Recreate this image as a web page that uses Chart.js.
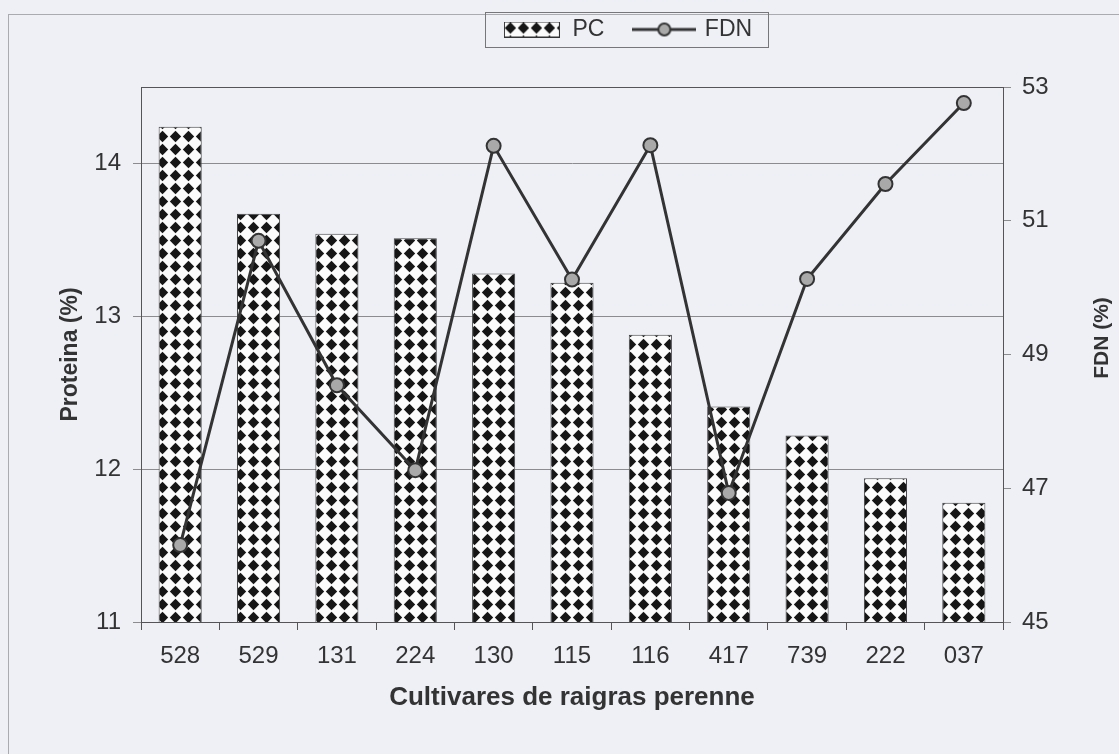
<!DOCTYPE html>
<html>
<head>
<meta charset="utf-8">
<script src="https://cdn.jsdelivr.net/npm/chart.js@4.4.1/dist/chart.umd.min.js"></script>
<style>
  html, body { margin: 0; padding: 0; background: #eef0f5; }
  #wrap { width: 1119px; height: 754px; position: relative; }
</style>
</head>
<body>
<div id="wrap"><canvas id="chart"></canvas></div>
<script>
// cultivares y valores
const cultivares = ['528', '529', '131', '224', '130', '115', '116', '417', '739', '222', '037'];
const proteina = [14.24, 13.67, 13.54, 13.51, 13.28, 13.22, 12.88, 12.41, 12.22, 11.94, 11.78];
const fdn = [46.15, 50.70, 48.54, 47.27, 52.12, 50.12, 52.13, 46.93, 50.13, 51.55, 52.76];

const protMin = 11, protMax = 14.5, protStep = 1;
const fdnMin = 45, fdnMax = 53, fdnStep = 2;

const TXT = '#333333';
Chart.defaults.font.family = "'Liberation Sans', Arial, sans-serif";
Chart.defaults.color = TXT;

// patron de rombos para las barras
function diamondTile() {
    const c = document.createElement('canvas');
    c.width = 13; c.height = 13;
    const g = c.getContext('2d');
    g.fillStyle = '#fbfbfb';
    g.fillRect(0, 0, 13, 13);
    g.fillStyle = '#161616';
    g.beginPath();
    g.moveTo(6.5, 0.8); g.lineTo(12.2, 6.5); g.lineTo(6.5, 12.2); g.lineTo(0.8, 6.5);
    g.closePath();
    g.fill();
    return c;
}
const tile = diamondTile();
const canvas = document.getElementById('chart');
const pattern = canvas.getContext('2d').createPattern(tile, 'repeat');

// iconos de la leyenda
function pcIcon() {
    const c = document.createElement('canvas');
    c.width = 56; c.height = 16;
    const g = c.getContext('2d');
    g.fillStyle = g.createPattern(tile, 'repeat');
    g.fillRect(0.5, 0.5, 55, 15);
    g.strokeStyle = '#333';
    g.lineWidth = 1;
    g.strokeRect(0.5, 0.5, 55, 15);
    return c;
}
function fdnIcon() {
    const c = document.createElement('canvas');
    c.width = 64; c.height = 16;
    const g = c.getContext('2d');
    g.strokeStyle = '#333';
    g.lineWidth = 3;
    g.beginPath(); g.moveTo(0, 8); g.lineTo(64, 8); g.stroke();
    g.beginPath(); g.arc(32, 8, 6, 0, Math.PI * 2);
    g.fillStyle = '#a9a9a9'; g.fill();
    g.lineWidth = 2; g.stroke();
    return c;
}
const icons = [pcIcon(), fdnIcon()];

const decor = {
    id: 'decor',
    beforeDraw(chart) {
        const ctx = chart.ctx;
        ctx.save();
        ctx.fillStyle = '#eef0f5';
        ctx.fillRect(0, 0, chart.width, chart.height);
        ctx.strokeStyle = '#a9abb0';
        ctx.lineWidth = 1;
        ctx.strokeRect(8.5, 14.5, chart.width + 20, chart.height + 20);
        ctx.restore();
    },
    afterLayout(chart) {
        // la leyenda de Excel no esta centrada
        const lg = chart.legend;
        lg.left += 68; lg.right += 68;
        lg.top -= 36; lg.bottom -= 36;
    },
    afterDatasetsDraw(chart) {
        const a = chart.chartArea, ctx = chart.ctx;
        ctx.save();
        ctx.strokeStyle = '#555';
        ctx.lineWidth = 1;
        ctx.strokeRect(Math.round(a.left) + 0.5, Math.round(a.top) + 0.5,
            Math.round(a.right - a.left), Math.round(a.bottom - a.top));
        ctx.restore();
    },
    afterDraw(chart) {
        const ctx = chart.ctx;
        const boxes = chart.legend.legendHitBoxes;
        ctx.save();
        if (boxes && boxes.length) {
            const l = Math.min(...boxes.map(b => b.left)) - 18;
            const r = Math.max(...boxes.map(b => b.left + b.width)) + 16;
            const t = Math.min(...boxes.map(b => b.top)) - 6;
            const btm = Math.max(...boxes.map(b => b.top + b.height)) + 6;
            ctx.strokeStyle = '#777';
            ctx.lineWidth = 1;
            ctx.strokeRect(Math.round(l) + 0.5, Math.round(t) + 0.5, Math.round(r - l), Math.round(btm - t));
        }
        // titulo del eje derecho (leido de abajo hacia arriba)
        ctx.translate(1102, 338);
        ctx.rotate(-Math.PI / 2);
        ctx.font = "bold 21px 'Liberation Sans', Arial, sans-serif";
        ctx.fillStyle = TXT;
        ctx.textAlign = 'center';
        ctx.textBaseline = 'middle';
        ctx.fillText('FDN (%)', 0, 0);
        ctx.restore();
    }
};

new Chart(canvas, {
    data: {
        labels: cultivares,
        datasets: [
            {
                type: 'bar',
                label: 'PC',
                data: proteina,
                yAxisID: 'y',
                backgroundColor: pattern,
                borderColor: '#444',
                borderWidth: 1,
                barPercentage: 0.55,
                categoryPercentage: 1,
                order: 1
            },
            {
                type: 'line',
                label: 'FDN',
                data: fdn,
                yAxisID: 'y2',
                borderColor: '#333',
                borderWidth: 3,
                tension: 0,
                pointRadius: 7,
                pointBackgroundColor: '#a9a9a9',
                pointBorderColor: '#333',
                pointBorderWidth: 2,
                order: 0
            }
        ]
    },
    options: {
        responsive: true,
        maintainAspectRatio: false,
        animation: false,
        devicePixelRatio: 1,
        layout: { padding: { top: 23, left: 0, right: 0, bottom: 0 } },
        plugins: {
            tooltip: { enabled: false },
            legend: {
                position: 'top',
                labels: {
                    usePointStyle: true,
                    pointStyleWidth: 58,
                    padding: 31,
                    font: { size: 23 },
                    color: TXT,
                    generateLabels: chart => chart.data.datasets.map((ds, i) => ({
                        text: ds.label,
                        pointStyle: icons[i],
                        fillStyle: 'transparent',
                        strokeStyle: 'transparent',
                        lineWidth: 0,
                        fontColor: TXT,
                        hidden: !chart.isDatasetVisible(i),
                        datasetIndex: i
                    }))
                }
            }
        },
        scales: {
            x: {
                grid: { display: true, drawOnChartArea: false, drawTicks: true, tickLength: 8, color: '#555', offset: true },
                border: { color: '#555' },
                ticks: { font: { size: 24 }, color: TXT, padding: 12 },
                title: {
                    display: true,
                    text: 'Cultivares de raigras perenne',
                    font: { size: 26, weight: 'bold' },
                    color: TXT,
                    padding: { top: 0, bottom: 41 }
                },
                afterFit: s => { s.height = 132; }
            },
            y: {
                position: 'left',
                min: protMin,
                max: protMax,
                ticks: { stepSize: protStep, includeBounds: false, font: { size: 24 }, color: TXT, padding: 12 },
                grid: { color: '#8c8c8c', tickLength: 8 },
                border: { color: '#555' },
                title: {
                    display: true,
                    text: 'Proteina (%)',
                    font: { size: 23, weight: 'bold' },
                    color: TXT,
                    padding: { top: 57, bottom: 0 }
                },
                afterFit: s => { s.width = 141; }
            },
            y2: {
                position: 'right',
                min: fdnMin,
                max: fdnMax,
                ticks: { stepSize: fdnStep, font: { size: 24 }, color: TXT, padding: 11 },
                grid: { drawOnChartArea: false, color: '#8c8c8c', tickLength: 8 },
                border: { color: '#555' },
                afterFit: s => { s.width = 116; }
            }
        }
    },
    plugins: [decor]
});
</script>
</body>
</html>
